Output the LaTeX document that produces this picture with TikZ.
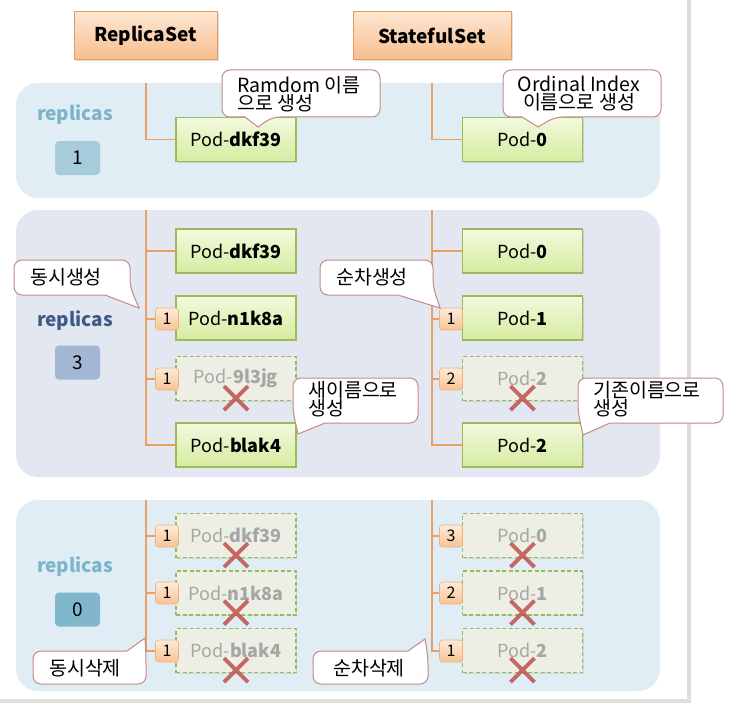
\documentclass[tikz,border=0pt]{standalone}
\usepackage{fontspec}
\setmainfont{Noto Sans CJK KR}
\usetikzlibrary{shadows,calc}
\definecolor{panelA}{HTML}{E1EDF4}
\definecolor{panelB}{HTML}{E2E7F1}
\definecolor{repA}{HTML}{7DB4CA}
\definecolor{repB}{HTML}{3E5B86}
\definecolor{numA}{HTML}{A6CBDA}
\definecolor{numB}{HTML}{A3B6D4}
\definecolor{numC}{HTML}{80B7CD}
\definecolor{wire}{HTML}{E9A064}
\definecolor{calloutline}{HTML}{C48A8A}
\definecolor{xred}{HTML}{C0504D}
\definecolor{podedge}{HTML}{9BBB59}
\definecolor{podtop}{HTML}{F2F9DE}
\definecolor{podbot}{HTML}{D6ECA0}
\definecolor{deadfill}{HTML}{EEEFE4}
\definecolor{deadtext}{HTML}{A6A6A6}
\definecolor{hdrtop}{HTML}{FDE6D2}
\definecolor{hdrbot}{HTML}{F7BE8E}
\definecolor{hdredge}{HTML}{E59B5F}
\definecolor{badgetop}{HTML}{FDEBDA}
\definecolor{badgebot}{HTML}{F8C394}
\definecolor{badgeedge}{HTML}{EFB27F}
\definecolor{framegray}{HTML}{DEDEDE}
\pgfdeclarelayer{panel}
\pgfdeclarelayer{wires}
\pgfsetlayers{panel,wires,main}
\newcommand\killmark[1]{\draw[xm] ($(#1.south)+(-12,-15)$) -- ($(#1.south)+(12,9)$) ($(#1.south)+(12,-15)$) -- ($(#1.south)+(-12,9)$);}
\begin{document}
\begin{tikzpicture}[x=1pt,y=-1pt,
  header/.style={draw=hdredge, line width=1pt, top color=hdrtop, bottom color=hdrbot,
    minimum height=48pt, inner sep=0pt, font=\bfseries\fontsize{19}{22}\selectfont,
    drop shadow={opacity=.25, shadow xshift=1.5pt, shadow yshift=-1.5pt}},
  pod/.style={draw=podedge, line width=1.2pt, top color=podtop, bottom color=podbot,
    minimum width=120pt, minimum height=44pt, inner sep=0pt, font=\fontsize{18}{20}\selectfont,
    drop shadow={opacity=.25, shadow xshift=1pt, shadow yshift=-1.2pt}},
  deadpod/.style={draw=podedge, line width=1.2pt, dash pattern=on 4pt off 2.5pt, fill=deadfill,
    minimum width=120pt, minimum height=44pt, inner sep=0pt, text=deadtext, font=\fontsize{18}{20}\selectfont,
    drop shadow={opacity=.2, shadow xshift=1pt, shadow yshift=-1.2pt}},
  badge/.style={draw=badgeedge, line width=.6pt, top color=badgetop, bottom color=badgebot,
    rounded corners=3pt, minimum width=23pt, minimum height=22pt, inner sep=0pt,
    font=\fontsize{16}{17}\selectfont},
  replab/.style={font=\bfseries\fontsize{19}{22}\selectfont, inner sep=0pt},
  repnum/.style={rounded corners=4pt, minimum width=45pt, minimum height=34pt, inner sep=0pt,
    font=\fontsize{19}{20}\selectfont},
  conn/.style={draw=wire, line width=1.5pt},
  xm/.style={draw=xred, draw opacity=.85, line width=4pt},
  cbox/.style={draw=calloutline, line width=1pt, fill=white},
  ctext/.style={inner sep=0pt, font=\fontsize{19.5}{18}\selectfont},
]
\useasboundingbox (0,0) rectangle (730,706);

% background, frame and panels
\begin{pgfonlayer}{panel}
\fill[white] (0,0) rectangle (730,706);
\draw[framegray, line width=3.5pt] (0,701) -- (689,701) -- (689,0);
\fill[panelA, rounded corners=22pt] (16,83) rectangle (660,198);
\fill[panelB, rounded corners=22pt] (16,210) rectangle (660,477);
\fill[panelA, rounded corners=22pt] (16,500) rectangle (660,691);
\end{pgfonlayer}

% headers
\node[header, minimum width=143pt] (rs) at (145.5,36) {ReplicaSet};
\node[header, minimum width=158pt] (ss) at (432,36) {StatefulSet};

% replicas labels
\node[replab, text=repA] (r1) at (75,115) {replicas};
\node[repnum, fill=numA] (n1) at (77.5,158) {1};
\node[replab, text=repB] (r2) at (75,321) {replicas};
\node[repnum, fill=numB] (n2) at (77.5,362.5) {3};
\node[replab, text=repA] (r3) at (75,567) {replicas};
\node[repnum, fill=numC] (n3) at (77.5,609.5) {0};

% panel 1 pods
\node[pod] (p1l) at (236,139.5) {Pod-\textbf{dkf39}};
\node[pod] (p1r) at (522.5,139.5) {Pod-\textbf{0}};
\coordinate (t1l) at (146,83);
\coordinate (t1r) at (432,83);

% panel 2 pods
\node[pod] (p2la) at (236,251) {Pod-\textbf{dkf39}};
\node[pod] (p2lb) at (236,318) {Pod-\textbf{n1k8a}};
\node[deadpod] (p2lc) at (236,378.5) {Pod-\textbf{9l3jg}};
\node[pod] (p2ld) at (236,445) {Pod-\textbf{blak4}};
\node[pod] (p2ra) at (522.5,251) {Pod-\textbf{0}};
\node[pod] (p2rb) at (522.5,318) {Pod-\textbf{1}};
\node[deadpod] (p2rc) at (522.5,378.5) {Pod-\textbf{2}};
\node[pod] (p2rd) at (522.5,445) {Pod-\textbf{2}};
\node[badge] (b2lb) at (167,319) {1};
\node[badge] (b2lc) at (167,379) {1};
\node[badge] (b2rb) at (451,319) {1};
\node[badge] (b2rc) at (451,379) {2};
\coordinate (t2l) at (146,210);
\coordinate (t2r) at (432,210);

% panel 3 pods
\node[deadpod] (p3la) at (236,535.5) {Pod-\textbf{dkf39}};
\node[deadpod] (p3lb) at (236,593) {Pod-\textbf{n1k8a}};
\node[deadpod] (p3lc) at (236,650.5) {Pod-\textbf{blak4}};
\node[deadpod] (p3ra) at (522.5,535.5) {Pod-\textbf{0}};
\node[deadpod] (p3rb) at (522.5,593) {Pod-\textbf{1}};
\node[deadpod] (p3rc) at (522.5,650.5) {Pod-\textbf{2}};
\node[badge] (b3la) at (167,536) {1};
\node[badge] (b3lb) at (167,593) {1};
\node[badge] (b3lc) at (167,651) {1};
\node[badge] (b3ra) at (451,536) {3};
\node[badge] (b3rb) at (451,593) {2};
\node[badge] (b3rc) at (451,651) {1};
\coordinate (t3l) at (146,500);
\coordinate (t3r) at (432,500);

% connectors
\begin{pgfonlayer}{wires}
\draw[conn] (t1l) |- (p1l.west);
\draw[conn] (t1r) |- (p1r.west);
\draw[conn] (t2l) |- (p2la.west);
\draw[conn] (t2l) |- (b2lb.west);
\draw[conn] (t2l) |- (b2lc.west);
\draw[conn] (t2l) |- (p2ld.west);
\draw[conn] (t2r) |- (p2ra.west);
\draw[conn] (t2r) |- (b2rb.west);
\draw[conn] (t2r) |- (b2rc.west);
\draw[conn] (t2r) |- (p2rd.west);
\draw[conn] (t3l) |- (b3la.west);
\draw[conn] (t3l) |- (b3lb.west);
\draw[conn] (t3l) |- (b3lc.west);
\draw[conn] (t3r) |- (b3ra.west);
\draw[conn] (t3r) |- (b3rb.west);
\draw[conn] (t3r) |- (b3rc.west);
\end{pgfonlayer}

% red crosses
\killmark{p2lc}
\killmark{p2rc}
\killmark{p3la}
\killmark{p3lb}
\killmark{p3lc}
\killmark{p3ra}
\killmark{p3rb}
\killmark{p3rc}

% callouts
\draw[cbox] (245,117) [rounded corners=8pt] -- (222,117) -- (222,70) -- (380,70) -- (380,117) -- (272,117) [sharp corners] -- (258,127) -- cycle;
\node[ctext, anchor=west, align=left] (c1) at (237,94) {Ramdom 이름\\으로 생성};

\draw[cbox] (522,117) [rounded corners=8pt] -- (503,117) -- (503,70) -- (661,70) -- (661,117) -- (555,117) [sharp corners] -- (538,127) -- cycle;
\node[ctext, align=center] (c2) at (579,94) {Ordinal Index\\이름으로 생성};

\draw[cbox] (105,295) [rounded corners=8pt] -- (14,295) -- (14,260) -- (130,260) -- (130,287) [sharp corners] -- (139,308) -- cycle;
\node[ctext] (c3) at (66,277) {동시생성};

\draw[cbox] (398,295) [rounded corners=8pt] -- (320,295) -- (320,260) -- (433,260) -- (433,287) [sharp corners] -- (440,308) -- cycle;
\node[ctext] (c4) at (372,277) {순차생성};

\draw[cbox] (325,423) [rounded corners=8pt] -- (418,423) -- (418,378) -- (293,378) -- (293,412) [sharp corners] -- (298,434) -- cycle;
\node[ctext, anchor=west, align=left] (c5) at (308,399) {새이름으로\\생성};

\draw[cbox] (610,423) [rounded corners=8pt] -- (723,423) -- (723,378) -- (578,378) -- (578,412) [sharp corners] -- (583,435) -- cycle;
\node[ctext, anchor=west, align=left] (c6) at (593,399) {기존이름으로\\생성};

\draw[cbox] (127,651) [rounded corners=8pt] -- (33,651) -- (33,684) -- (146,684) -- (146,657) [sharp corners] -- (145,638) -- cycle;
\node[ctext] (c7) at (85,668) {동시삭제};

\draw[cbox] (408,651) [rounded corners=8pt] -- (313,651) -- (313,684) -- (428,684) -- (428,657) [sharp corners] -- (425,639) -- cycle;
\node[ctext] (c8) at (369,668) {순차삭제};
\end{tikzpicture}
\end{document}
